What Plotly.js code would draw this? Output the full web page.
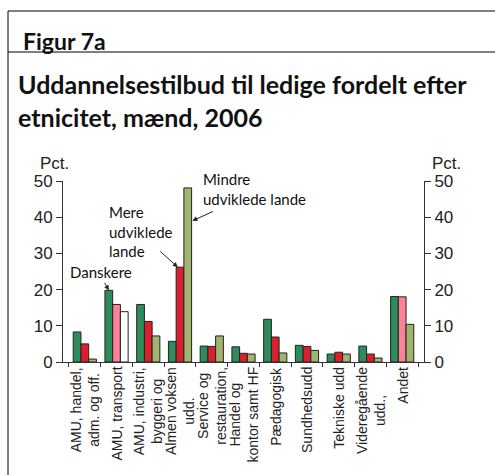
<!DOCTYPE html>
<html>
<head>
<meta charset="utf-8">
<script src="https://cdn.plot.ly/plotly-3.0.1.min.js"></script>
<style>
  body { margin: 0; background: #fff; }
  #chart { width: 495px; height: 475px; }
</style>
</head>
<body>
<div id="chart"></div>
<script>
// categories and values (pct.)
var categories = [
    'AMU, handel,<br>adm. og off.',
    'AMU, transport',
    'AMU, industri,<br>byggeri og',
    'Almen voksen<br>udd.',
    'Service og<br>restauration,',
    'Handel og<br>kontor samt HF',
    'Pædagogisk',
    'Sundhedsudd',
    'Tekniske udd',
    'Videregående<br>udd.,',
    'Andet'
];
var danskere = [8.3, 19.8, 15.9, 5.7, 4.4, 4.2, 11.8, 4.6, 2.2, 4.4, 18.1];
var mereUdv = [5.0, 15.9, 11.2, 26.2, 4.3, 2.4, 6.9, 4.3, 2.7, 2.2, 18.0];
var mindreUdv = [0.8, 13.9, 7.2, 48.1, 7.2, 2.2, 2.5, 3.2, 2.2, 1.1, 10.4];

var GREEN = '#2e8b5a', RED = '#dc1f2e', PINK = '#ff8099', OLIVE = '#a0b46e';

// bar colours: some bars are drawn in a lighter tint in the source
var redCols = categories.map(function (c, i) { return (i === 1 || i === 10) ? PINK : RED; });
var oliveCols = categories.map(function (c, i) { return i === 1 ? '#ffffff' : OLIVE; });

// plot area in pixels
var L = 63, R = 424, T = 181, B = 362;
var W = R - L, H = B - T;
function px(x) { return (x - L) / W; }
function py(y) { return (B - y) / H; }

var lineStyle = {color: '#222', width: 1};
var data = [
    {x: categories, y: danskere, type: 'bar', name: 'Danskere',
        marker: {color: GREEN, line: lineStyle}},
    {x: categories, y: mereUdv, type: 'bar', name: 'Mere udviklede lande',
        marker: {color: redCols, line: lineStyle}},
    {x: categories, y: mindreUdv, type: 'bar', name: 'Mindre udviklede lande',
        marker: {color: oliveCols, line: lineStyle}},
    // invisible copy so the right-hand axis gets drawn
    {x: categories, y: danskere, type: 'scatter', mode: 'markers', yaxis: 'y2',
        marker: {opacity: 0}, hoverinfo: 'skip', showlegend: false}
];

var tickFont = {family: 'Liberation Sans, Arial, sans-serif', size: 17, color: '#222'};
var catFont = {family: 'Liberation Sans, Arial, sans-serif', size: 14, color: '#222'};
var noteFont = {family: 'Lato, sans-serif', size: 15, color: '#111'};
var titleFont = {family: 'Lato, sans-serif', size: 25, color: '#111'};

// offset of the outer bars from the category centre
var gap = 0.27;
var off = (1 - gap) / 3;

var annotations = [
    {xref: 'paper', yref: 'paper', x: px(21), y: py(41), xanchor: 'left', yanchor: 'middle',
        text: '<b>Figur 7a</b>', showarrow: false,
        font: {family: 'Lato, sans-serif', size: 23, color: '#111'}},
    {xref: 'paper', yref: 'paper', x: px(16), y: py(84), xanchor: 'left', yanchor: 'middle',
        text: '<b>Uddannelsestilbud til ledige fordelt efter</b>', showarrow: false, font: titleFont},
    {xref: 'paper', yref: 'paper', x: px(16), y: py(117), xanchor: 'left', yanchor: 'middle',
        text: '<b>etnicitet, mænd, 2006</b>', showarrow: false, font: titleFont},
    {xref: 'paper', yref: 'paper', x: px(54), y: py(163), xanchor: 'center', yanchor: 'middle',
        text: 'Pct.', showarrow: false, font: tickFont},
    {xref: 'paper', yref: 'paper', x: px(446), y: py(163), xanchor: 'center', yanchor: 'middle',
        text: 'Pct.', showarrow: false, font: tickFont},
    {xref: 'paper', yref: 'paper', x: px(68), y: py(272), xanchor: 'left', yanchor: 'middle',
        text: 'Danskere', showarrow: false, font: noteFont, align: 'left'},
    {xref: 'paper', yref: 'paper', x: px(107), y: py(231), xanchor: 'left', yanchor: 'middle',
        text: 'Mere<br>udviklede<br>lande', showarrow: false, font: noteFont, align: 'left'},
    {xref: 'paper', yref: 'paper', x: px(201), y: py(189), xanchor: 'left', yanchor: 'middle',
        text: 'Mindre<br>udviklede lande', showarrow: false, font: noteFont, align: 'left'},
    // arrows pointing at the bars
    {xref: 'x', yref: 'y', x: 1 - off, y: danskere[1], ax: -5, ay: -9, text: '',
        showarrow: true, arrowhead: 2, arrowsize: 1, arrowwidth: 1, arrowcolor: '#222'},
    {xref: 'x', yref: 'y', x: 3 - 0.07, y: mereUdv[3], ax: -19, ay: -17, text: '',
        showarrow: true, arrowhead: 2, arrowsize: 1, arrowwidth: 1, arrowcolor: '#222'},
    {xref: 'x', yref: 'y', x: 3 + off * 1.6, y: 39, ax: 22, ay: -10, text: '',
        showarrow: true, arrowhead: 2, arrowsize: 1, arrowwidth: 1, arrowcolor: '#222'}
];

// category labels: rotated, lines centred on each other, block hanging from the axis
categories.forEach(function (c, i) {
    annotations.push({xref: 'x', yref: 'paper', x: i, y: py(366), xanchor: 'center', yanchor: 'top',
        text: c, textangle: -90, align: 'center', showarrow: false, font: catFont, borderpad: 0});
});

var shapes = [
    {type: 'line', xref: 'paper', yref: 'paper', x0: px(8), x1: px(8), y0: py(11), y1: py(480),
        line: {color: '#000', width: 1}},
    {type: 'line', xref: 'paper', yref: 'paper', x0: px(8), x1: px(500), y0: py(11), y1: py(11),
        line: {color: '#000', width: 1}},
    {type: 'line', xref: 'paper', yref: 'paper', x0: px(8), x1: px(500), y0: py(52), y1: py(52),
        line: {color: '#000', width: 1}}
];

var layout = {
    width: 495, height: 475,
    margin: {l: L, r: 495 - R, t: T, b: 475 - B, pad: 0},
    paper_bgcolor: '#fff', plot_bgcolor: '#fff',
    showlegend: false,
    barmode: 'group', bargap: gap, bargroupgap: 0,
    xaxis: {
        type: 'category', showticklabels: false, ticks: 'outside', tickson: 'boundaries',
        ticklen: 4, tickcolor: '#333', showline: true, linecolor: '#333', linewidth: 1,
        showgrid: false, zeroline: false
    },
    yaxis: {
        range: [0, 50], dtick: 10, ticks: 'outside', ticklen: 6, tickcolor: '#333',
        showline: true, linecolor: '#333', linewidth: 1, showgrid: false, zeroline: false,
        tickfont: tickFont
    },
    yaxis2: {
        overlaying: 'y', side: 'right', range: [0, 50], dtick: 10, ticks: 'outside', ticklen: 6,
        tickcolor: '#333', showline: true, linecolor: '#333', linewidth: 1,
        showgrid: false, zeroline: false, tickfont: tickFont
    },
    annotations: annotations,
    shapes: shapes
};

Plotly.newPlot('chart', data, layout, {displayModeBar: false, staticPlot: true});
</script>
</body>
</html>
